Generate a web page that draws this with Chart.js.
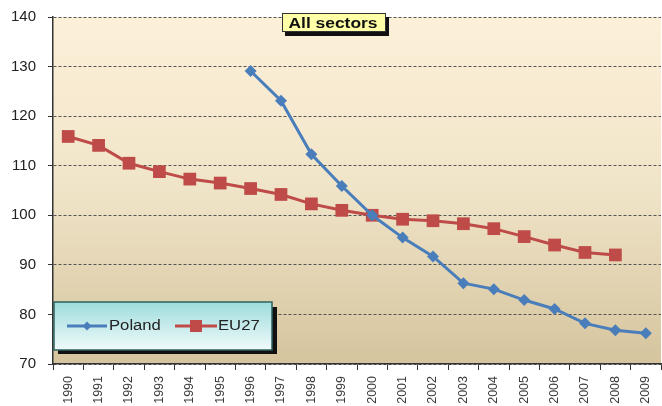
<!DOCTYPE html>
<html>
<head>
<meta charset="utf-8">
<script src="https://cdn.jsdelivr.net/npm/chart.js@4/dist/chart.umd.min.js"></script>
<style>
    html, body { margin: 0; padding: 0; background: #ffffff; overflow: hidden; }
    #wrap { width: 670px; height: 406px; }
</style>
</head>
<body>
<div id="wrap"><canvas id="sectorsChart" width="670" height="406"></canvas></div>
<script>
    const years = ['1990', '1991', '1992', '1993', '1994', '1995', '1996', '1997', '1998', '1999',
        '2000', '2001', '2002', '2003', '2004', '2005', '2006', '2007', '2008', '2009'];

    const poland = [null, null, null, null, null, null, 129.1, 123.1, 112.3, 105.9,
        100.0, 95.5, 91.7, 86.3, 85.1, 82.9, 81.1, 78.2, 76.8, 76.2];

    const eu27 = [115.9, 114.1, 110.5, 108.8, 107.3, 106.5, 105.4, 104.2, 102.3, 101.0,
        100.0, 99.2, 98.9, 98.3, 97.3, 95.7, 94.0, 92.5, 92.0, null];

    const yTicks = [70, 80, 90, 100, 110, 120, 130, 140];

    const titleText = 'All sectors';
    const seriesNames = ['Poland', 'EU27'];

    const BLUE = '#4a7ebb';
    const RED = '#be4b48';
    const FONT = '"Liberation Sans", Arial, sans-serif';

    // text in the reference is a bit wider than normal
    function wideText(ctx, text, x, y, sx) {
        ctx.save();
        ctx.translate(x, y);
        ctx.scale(sx, 1);
        ctx.fillText(text, 0, 0);
        ctx.restore();
    }

    // plot background + title box + legend box
    const decorations = {
        id: 'decorations',
        beforeDraw(chart) {
            const { ctx, chartArea } = chart;
            const g = ctx.createLinearGradient(0, chartArea.top, 0, chartArea.bottom);
            g.addColorStop(0, '#fdf0d9');
            g.addColorStop(0.5, '#f0e4c8');
            g.addColorStop(1, '#d5c49d');
            ctx.save();
            ctx.fillStyle = g;
            ctx.fillRect(chartArea.left, chartArea.top,
                chartArea.right - chartArea.left, chartArea.bottom - chartArea.top);
            ctx.restore();
        },
        afterDraw(chart) {
            const { ctx } = chart;
            ctx.save();

            // title box
            ctx.fillStyle = '#111111';
            ctx.fillRect(285, 17, 104, 19);
            ctx.fillStyle = '#ffffa8';
            ctx.fillRect(282, 13, 104, 19);
            ctx.strokeStyle = '#333333';
            ctx.lineWidth = 1;
            ctx.strokeRect(282.5, 13.5, 103, 18);
            ctx.fillStyle = '#111111';
            ctx.font = 'bold 14.5px ' + FONT;
            ctx.textAlign = 'center';
            ctx.textBaseline = 'middle';
            wideText(ctx, titleText, 333, 23.5, 1.2);

            // legend box
            ctx.fillStyle = '#111111';
            ctx.fillRect(58, 307, 219, 47);
            const lg = ctx.createLinearGradient(0, 302, 0, 350);
            lg.addColorStop(0, '#9edcdc');
            lg.addColorStop(1, '#f0fafa');
            ctx.fillStyle = lg;
            ctx.fillRect(54, 302, 218, 48);
            ctx.strokeStyle = '#2e6060';
            ctx.lineWidth = 1.5;
            ctx.strokeRect(54, 302, 218, 48);

            const ly = 326;
            ctx.lineWidth = 3;
            ctx.strokeStyle = BLUE;
            ctx.beginPath();
            ctx.moveTo(67, ly);
            ctx.lineTo(107, ly);
            ctx.stroke();
            ctx.fillStyle = BLUE;
            ctx.beginPath();
            ctx.moveTo(87, ly - 4.5);
            ctx.lineTo(91.5, ly);
            ctx.lineTo(87, ly + 4.5);
            ctx.lineTo(82.5, ly);
            ctx.closePath();
            ctx.fill();

            ctx.strokeStyle = RED;
            ctx.beginPath();
            ctx.moveTo(175, ly);
            ctx.lineTo(217, ly);
            ctx.stroke();
            ctx.fillStyle = RED;
            ctx.fillRect(190, ly - 6, 12, 12);

            ctx.fillStyle = '#222222';
            ctx.font = '14px ' + FONT;
            ctx.textAlign = 'left';
            ctx.textBaseline = 'middle';
            wideText(ctx, seriesNames[0], 109, ly, 1.19);
            wideText(ctx, seriesNames[1], 218, ly, 1.19);

            ctx.restore();
        },
    };

    new Chart(document.getElementById('sectorsChart'), {
        type: 'line',
        data: {
            labels: years,
            datasets: [
                {
                    label: seriesNames[0],
                    data: poland,
                    borderColor: BLUE,
                    backgroundColor: BLUE,
                    borderWidth: 3,
                    pointStyle: 'rectRot',
                    pointRadius: 6,
                    pointBorderWidth: 0,
                    tension: 0,
                },
                {
                    label: seriesNames[1],
                    data: eu27,
                    borderColor: RED,
                    backgroundColor: RED,
                    borderWidth: 3,
                    pointStyle: 'rect',
                    pointRadius: 9,
                    pointBorderWidth: 0,
                    tension: 0,
                },
            ],
        },
        options: {
            responsive: false,
            animation: false,
            layout: {
                padding: { top: 17, right: 1, bottom: 0, left: 0 },
            },
            plugins: {
                legend: { display: false },
                tooltip: { enabled: false },
            },
            scales: {
                x: {
                    offset: true,
                    grid: {
                        offset: true,
                        drawOnChartArea: false,
                        tickLength: 6,
                        tickColor: '#333333',
                    },
                    border: { color: '#333333', width: 1.5 },
                    ticks: {
                        minRotation: 90,
                        maxRotation: 90,
                        padding: 6,
                        color: '#3a3a3a',
                        font: { family: FONT, size: 12.5 },
                    },
                    afterFit(scale) {
                        scale.height = 42;
                    },
                },
                y: {
                    min: 70,
                    max: 140,
                    afterBuildTicks(scale) {
                        scale.ticks = yTicks.map((v) => ({ value: v }));
                    },
                    grid: {
                        color: '#555555',
                        lineWidth: 1,
                        tickLength: 5,
                        tickColor: '#333333',
                        tickBorderDash: [],
                    },
                    border: { color: '#333333', width: 1.5, dash: [3, 2] },
                    ticks: {
                        padding: 12,
                        color: '#222222',
                        font: { family: FONT, size: 15 },
                    },
                    afterFit(scale) {
                        scale.width = 53;
                        scale.paddingTop = 0;
                        scale.paddingBottom = 0;
                    },
                },
            },
        },
        plugins: [decorations],
    });
</script>
</body>
</html>
